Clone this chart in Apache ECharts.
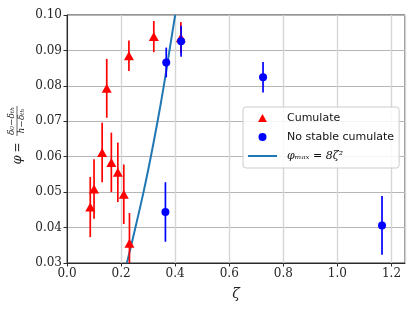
<!DOCTYPE html>
<html>
<head>
<meta charset="utf-8">
<script src="https://cdn.jsdelivr.net/npm/echarts@6/dist/echarts.min.js"></script>
<style>
html,body{margin:0;padding:0;background:#fff;}
#chart{width:415px;height:311px;}
</style>
</head>
<body>
<div id="chart"></div>
<script>
// Cumulate (red triangles)
const cumZeta = [0.086, 0.100, 0.130, 0.147, 0.164, 0.188, 0.210, 0.231, 0.229, 0.321, 0.421];
const cumPhi  = [0.0458, 0.0509, 0.0612, 0.0793, 0.0584, 0.0556, 0.0494, 0.0356, 0.0885, 0.0939, 0.0936];
const cumErr  = [0.0085, 0.0084, 0.0084, 0.0083, 0.0084, 0.0084, 0.0084, 0.0085, 0.0043, 0.0044, 0.0044];
// No stable cumulate (blue circles)
const nscZeta = [0.367, 0.422, 0.364, 0.725, 1.165];
const nscPhi  = [0.0866, 0.0926, 0.0444, 0.0824, 0.0406];
const nscErr  = [0.0042, 0.0044, 0.0084, 0.0043, 0.0083];
// phi_max curve
const curveZeta = [0.2216, 0.253, 0.283, 0.310, 0.335, 0.358, 0.379, 0.400];
const curvePhi  = [0.03, 0.04, 0.05, 0.06, 0.07, 0.08, 0.09, 0.10];
// axis ticks
const xTicks = {min: 0, max: 1.25, interval: 0.2};
const yTicks = {min: 0.03, max: 0.10, interval: 0.01};

const serif = '"DejaVu Serif", serif';
const sans = '"DejaVu Sans", sans-serif';
const curveName = 'φₘₐₓ = 8ζ²';

const pairs = (a, b) => a.map((v, i) => [v, b[i]]);
const triples = (a, b, c) => a.map((v, i) => [v, b[i], c[i]]);

function errBar(color) {
  return function (params, api) {
    const x = api.value(0), y = api.value(1), e = api.value(2);
    const p1 = api.coord([x, y - e]);
    const p2 = api.coord([x, y + e]);
    const cs = params.coordSys;
    const top = cs.y, bot = cs.y + cs.height;
    return {
      type: 'line',
      shape: {x1: p1[0], y1: Math.min(bot, Math.max(top, p1[1])), x2: p2[0], y2: Math.min(bot, Math.max(top, p2[1]))},
      style: {stroke: color, lineWidth: 1.7}
    };
  };
}

const chart = echarts.init(document.getElementById('chart'), null, {renderer: 'canvas'});
chart.setOption({
  animation: false,
  backgroundColor: '#ffffff',
  grid: {left: 67, right: 10, top: 15, bottom: 48, show: true, borderColor: '#2b2b2b', borderWidth: 1, backgroundColor: 'transparent'},
  xAxis: {
    type: 'value', min: xTicks.min, max: xTicks.max, interval: xTicks.interval,
    name: 'ζ', nameLocation: 'middle', nameGap: 24,
    nameTextStyle: {fontFamily: serif, fontStyle: 'italic', fontSize: 14, color: '#222'},
    axisLine: {show: true, lineStyle: {color: '#2b2b2b', width: 1}},
    axisTick: {show: true, inside: false, length: 3.5, lineStyle: {color: '#2b2b2b'}},
    axisLabel: {showMaxLabel: false, fontFamily: serif, fontSize: 12, color: '#262626', margin: 5,
      formatter: v => v.toFixed(1)},
    splitLine: {show: true, lineStyle: {color: '#d6d6d6', width: 1.4}}
  },
  yAxis: {
    type: 'value', min: yTicks.min, max: yTicks.max, interval: yTicks.interval,
    axisLine: {show: true, lineStyle: {color: '#2b2b2b', width: 1}},
    axisTick: {show: true, inside: false, length: 3.5, lineStyle: {color: '#2b2b2b'}},
    axisLabel: {fontFamily: serif, fontSize: 12, color: '#262626', margin: 5,
      formatter: v => v.toFixed(2)},
    splitLine: {show: true, lineStyle: {color: '#b5b5b5', width: 1}}
  },
  legend: {
    orient: 'vertical', left: 243, top: 107,
    padding: [5, 5, 6, 5],
    itemWidth: 29, itemHeight: 8, itemGap: 7,
    symbolKeepAspect: true,
    backgroundColor: 'rgba(255,255,255,0.85)', borderColor: '#cccccc', borderWidth: 1, borderRadius: 3,
    textStyle: {fontFamily: sans, fontSize: 11, color: '#111', padding: [0, 0, 0, 5], lineHeight: 12,
      rich: {m: {fontFamily: serif, fontStyle: 'italic', fontSize: 11, color: '#111'}}},
    data: [
      {name: 'Cumulate', icon: 'path://M0,9 L5,0 L10,9 Z'},
      {name: 'No stable cumulate', icon: 'circle'},
      {name: curveName, icon: 'path://M0,0 L29,0 L29,2 L0,2 Z'}
    ],
    formatter: function (name) {
      if (name === curveName) return '{m|' + curveName + '}';
      return name;
    }
  },
  series: [
    {
      name: curveName, type: 'line', data: pairs(curveZeta, curvePhi),
      smooth: 0.3, symbol: 'none', clip: true, z: 2,
      lineStyle: {color: '#1f77b4', width: 2}, itemStyle: {color: '#1f77b4'}
    },
    {
      name: 'Cumulate', type: 'custom', renderItem: errBar('#ff0000'),
      data: triples(cumZeta, cumPhi, cumErr), encode: {x: 0, y: 1}, z: 3, silent: true,
      itemStyle: {color: '#ff0000'}
    },
    {
      name: 'Cumulate', type: 'scatter', data: pairs(cumZeta, cumPhi),
      symbol: 'triangle', symbolSize: [10, 9], z: 3,
      itemStyle: {color: '#ff0000', opacity: 1}
    },
    {
      name: 'No stable cumulate', type: 'custom', renderItem: errBar('#0000ff'),
      data: triples(nscZeta, nscPhi, nscErr), encode: {x: 0, y: 1}, z: 4, silent: true,
      itemStyle: {color: '#0000ff'}
    },
    {
      name: 'No stable cumulate', type: 'scatter', data: pairs(nscZeta, nscPhi),
      symbol: 'circle', symbolSize: 8, z: 4,
      itemStyle: {color: '#0000ff', opacity: 1}
    }
  ],
  graphic: [
    {
      type: 'group', x: 17, y: 135, rotation: Math.PI / 2,
      children: [
        {type: 'text', x: -25, y: 1, style: {text: 'φ', font: 'italic 13px ' + serif, fill: '#222', align: 'center', verticalAlign: 'middle'}},
        {type: 'text', x: -12.5, y: 1, style: {text: '=', font: '12px ' + serif, fill: '#222', align: 'center', verticalAlign: 'middle'}},
        {type: 'text', x: 14, y: -5, style: {text: 'δ₀−δₜₕ', font: 'italic 9px ' + serif, fill: '#222', align: 'center', verticalAlign: 'middle'}},
        {type: 'line', shape: {x1: -1, y1: 0, x2: 29, y2: 0}, style: {stroke: '#222', lineWidth: 0.7}},
        {type: 'text', x: 14, y: 5, style: {text: 'h−δₜₕ', font: 'italic 9px ' + serif, fill: '#222', align: 'center', verticalAlign: 'middle'}}
      ]
    }
  ]
});
</script>
</body>
</html>
